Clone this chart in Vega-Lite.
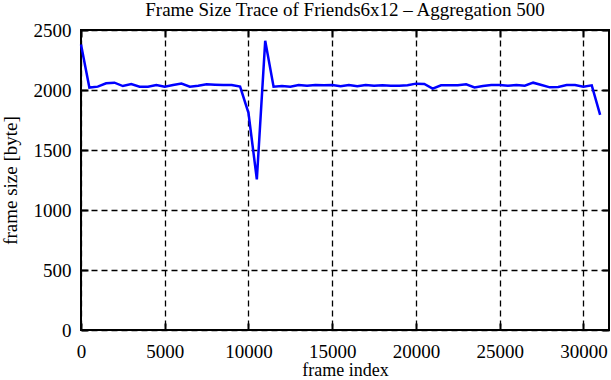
{
  "$schema": "https://vega.github.io/schema/vega-lite/v6.json",
  "width": 528,
  "height": 300,
  "autosize": {"type": "none"},
  "padding": {"left": 81, "top": 30, "right": 2, "bottom": 50},
  "background": "white",
  "title": {
    "text": "Frame Size Trace of Friends6x12 – Aggregation 500",
    "font": "Liberation Serif",
    "fontSize": 19,
    "fontWeight": "normal",
    "color": "black",
    "anchor": "middle",
    "offset": 1
  },
  "data": {
    "values": [
      {"frame": 0, "size": 2380},
      {"frame": 500, "size": 2020},
      {"frame": 1000, "size": 2028},
      {"frame": 1500, "size": 2056},
      {"frame": 2000, "size": 2061},
      {"frame": 2500, "size": 2033},
      {"frame": 3000, "size": 2050},
      {"frame": 3500, "size": 2028},
      {"frame": 4000, "size": 2028},
      {"frame": 4500, "size": 2042},
      {"frame": 5000, "size": 2028},
      {"frame": 5500, "size": 2042},
      {"frame": 6000, "size": 2053},
      {"frame": 6500, "size": 2028},
      {"frame": 7000, "size": 2036},
      {"frame": 7500, "size": 2047},
      {"frame": 8000, "size": 2044},
      {"frame": 8500, "size": 2042},
      {"frame": 9000, "size": 2042},
      {"frame": 9500, "size": 2028},
      {"frame": 10000, "size": 1810},
      {"frame": 10500, "size": 1255},
      {"frame": 11000, "size": 2410},
      {"frame": 11500, "size": 2028},
      {"frame": 12000, "size": 2033},
      {"frame": 12500, "size": 2028},
      {"frame": 13000, "size": 2042},
      {"frame": 13500, "size": 2036},
      {"frame": 14000, "size": 2042},
      {"frame": 14500, "size": 2039},
      {"frame": 15000, "size": 2042},
      {"frame": 15500, "size": 2031},
      {"frame": 16000, "size": 2042},
      {"frame": 16500, "size": 2031},
      {"frame": 17000, "size": 2042},
      {"frame": 17500, "size": 2036},
      {"frame": 18000, "size": 2039},
      {"frame": 18500, "size": 2036},
      {"frame": 19000, "size": 2036},
      {"frame": 19500, "size": 2039},
      {"frame": 20000, "size": 2053},
      {"frame": 20500, "size": 2050},
      {"frame": 21000, "size": 2011},
      {"frame": 21500, "size": 2039},
      {"frame": 22000, "size": 2039},
      {"frame": 22500, "size": 2039},
      {"frame": 23000, "size": 2047},
      {"frame": 23500, "size": 2022},
      {"frame": 24000, "size": 2033},
      {"frame": 24500, "size": 2042},
      {"frame": 25000, "size": 2042},
      {"frame": 25500, "size": 2036},
      {"frame": 26000, "size": 2042},
      {"frame": 26500, "size": 2036},
      {"frame": 27000, "size": 2061},
      {"frame": 27500, "size": 2042},
      {"frame": 28000, "size": 2022},
      {"frame": 28500, "size": 2025},
      {"frame": 29000, "size": 2042},
      {"frame": 29500, "size": 2042},
      {"frame": 30000, "size": 2028},
      {"frame": 30500, "size": 2039},
      {"frame": 31000, "size": 1792}
    ]
  },
  "layer": [
    {
      "mark": {"type": "line", "color": "#0000ff", "strokeWidth": 2.5},
      "encoding": {
        "x": {
          "field": "frame",
          "type": "quantitative",
          "scale": {"domain": [0, 31530], "nice": false, "zero": false},
          "axis": {
            "title": "frame index",
            "titleFontSize": 18,
            "values": [0, 5000, 10000, 15000, 20000, 25000, 30000],
            "format": "d",
            "grid": true,
            "labelFlush": false,
            "labelPadding": 19,
            "titlePadding": 0
          }
        },
        "y": {
          "field": "size",
          "type": "quantitative",
          "scale": {"domain": [0, 2500], "nice": false},
          "axis": {
            "title": "frame size [byte]",
            "values": [0, 500, 1000, 1500, 2000, 2500],
            "format": "d",
            "grid": true,
            "labelFlush": false,
            "labelPadding": 17,
            "titlePadding": 13
          }
        }
      }
    },
    {
      "mark": {"type": "line", "opacity": 0},
      "encoding": {
        "x": {
          "field": "frame",
          "type": "quantitative",
          "axis": {
            "orient": "top",
            "title": null,
            "labels": false,
            "grid": false,
            "values": [0, 5000, 10000, 15000, 20000, 25000, 30000]
          }
        },
        "y": {
          "field": "size",
          "type": "quantitative",
          "axis": {
            "orient": "right",
            "title": null,
            "labels": false,
            "grid": false,
            "values": [0, 500, 1000, 1500, 2000, 2500]
          }
        }
      }
    }
  ],
  "resolve": {"axis": {"x": "independent", "y": "independent"}},
  "config": {
    "view": {"stroke": "black", "strokeWidth": 2},
    "axis": {
      "labelFont": "Liberation Serif",
      "labelFontSize": 19,
      "labelColor": "black",
      "titleFont": "Liberation Serif",
      "titleFontSize": 19,
      "titleFontWeight": "normal",
      "titleColor": "black",
      "domain": false,
      "tickColor": "black",
      "tickSize": -7,
      "tickWidth": 2,
      "gridColor": "black",
      "gridDash": [6, 4],
      "gridWidth": 1.3,
      "gridOpacity": 1
    }
  }
}
